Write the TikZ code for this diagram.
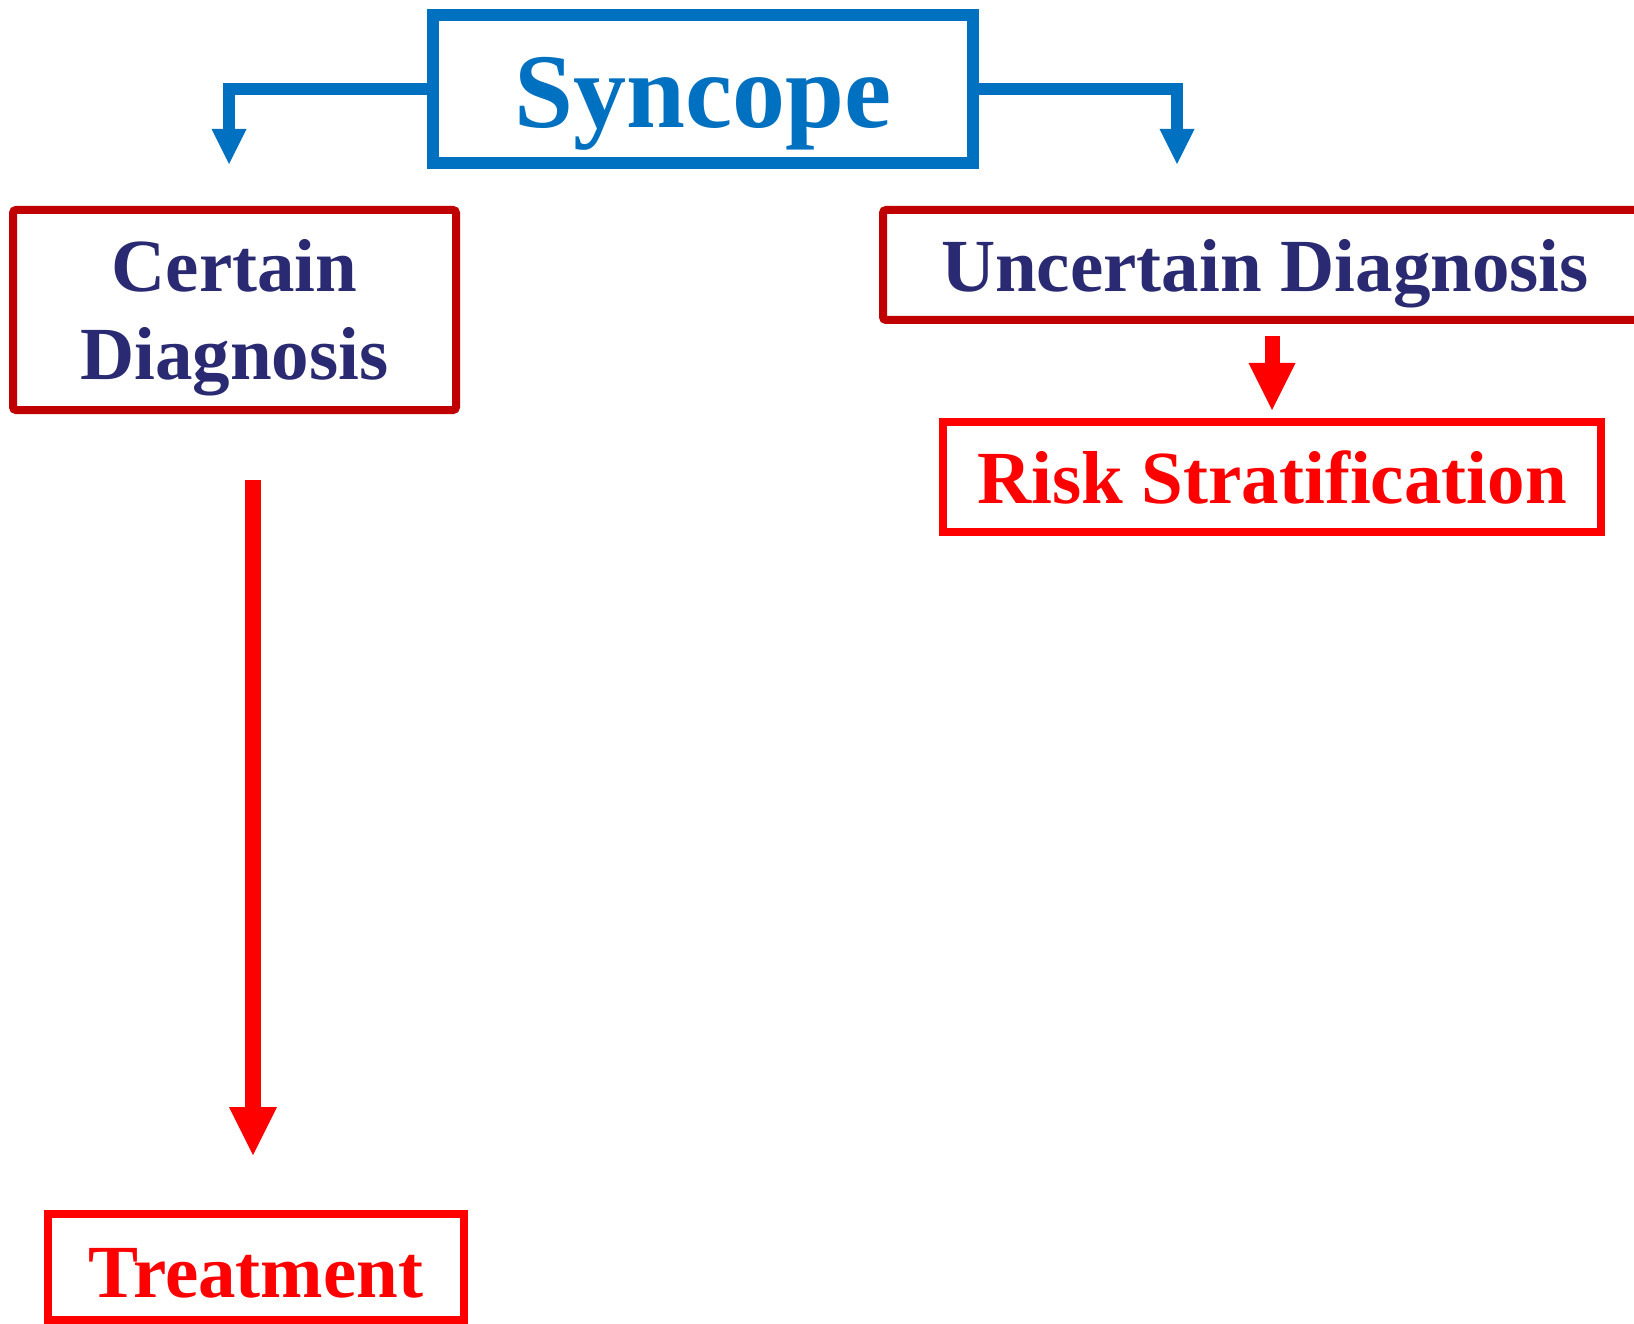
\documentclass[tikz,border=0pt]{standalone}
\usepackage{fontspec}
\setmainfont{Liberation Serif}
\usetikzlibrary{arrows.meta}
\definecolor{synblue}{HTML}{0070C0}
\definecolor{darkred}{HTML}{C00000}
\definecolor{navytext}{HTML}{2A2A72}
\definecolor{brightred}{HTML}{FF0000}
\begin{document}
\begin{tikzpicture}[x=1pt,y=-1pt,
  synbox/.style={draw=synblue, line width=12pt, text=synblue,
    font=\fontsize{106}{120}\selectfont\bfseries,
    minimum width=540pt, minimum height=148pt, inner sep=0pt, outer sep=0pt,
    text height=78pt, text depth=0pt},
  diagbox/.style={draw=darkred, line width=8pt, rounded corners=3pt, text=navytext,
    font=\fontsize{75}{88}\selectfont\bfseries, inner sep=0pt, outer sep=0pt},
  resbox/.style={draw=brightred, line width=8pt, text=brightred,
    font=\fontsize{75}{88}\selectfont\bfseries, inner sep=0pt, outer sep=0pt},
  bluearrow/.style={draw=synblue, line width=12pt, line join=miter,
    -{Triangle[width=35pt,length=35pt,line width=0pt]}},
  redarrow/.style 2 args={draw=brightred, line width=#1pt,
    -{Triangle[width=#2pt,length=#2pt,line width=0pt]}}
]
\useasboundingbox (0,0) rectangle (1634,1324);
\clip (0,0) rectangle (1634,1324);
\fill[white] (0,0) rectangle (1634,1324);

\node[synbox] (syn) at (703,89) {Syncope};
\node[diagbox, minimum width=443pt, minimum height=200pt, text height=50pt, text depth=86pt]
  (cert) at (234.5,310) {\begin{tabular}[t]{@{}c@{}}Certain\\Diagnosis\end{tabular}};
\node[diagbox, minimum width=764pt, minimum height=110pt, text height=54pt, text depth=0pt]
  (unc) at (1265,265) {Uncertain Diagnosis};
\node[resbox, minimum width=658pt, minimum height=110pt, text height=52pt, text depth=0pt]
  (risk) at (1272,477) {Risk Stratification};
\node[resbox, minimum width=416pt, minimum height=106pt, text height=60pt, text depth=0pt]
  (treat) at (256,1267) {Treatment};

\coordinate (ltip) at (229,164);
\coordinate (rtip) at (1177,164);
\draw[bluearrow] (syn.west) -| (ltip);
\draw[bluearrow] (syn.east) -| (rtip);

\coordinate (rs) at (1272,336);
\draw[redarrow={15}{47}] (rs) -- ([yshift=12pt]risk.north);

\coordinate (ts) at (253,480);
\coordinate (te) at (253,1155);
\draw[redarrow={16}{48}] (ts) -- (te);
\end{tikzpicture}
\end{document}
